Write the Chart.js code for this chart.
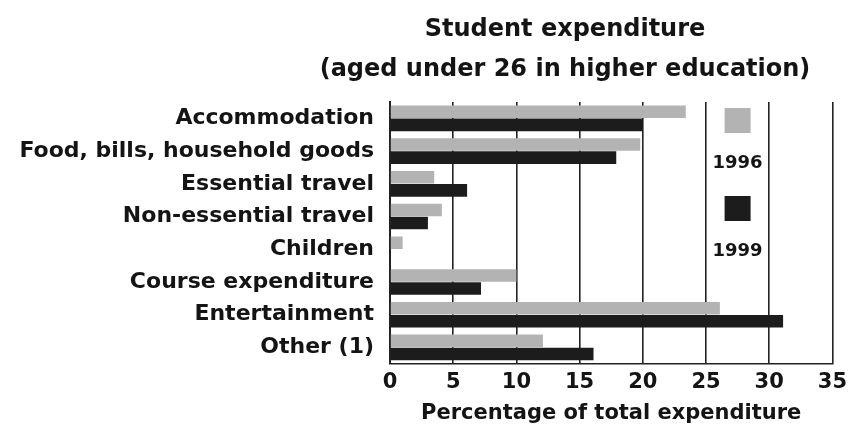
<!DOCTYPE html>
<html>
<head>
<meta charset="utf-8">
<script src="https://cdn.jsdelivr.net/npm/chart.js@4.4.1/dist/chart.umd.min.js"></script>
<style>
    html, body { margin: 0; padding: 0; background: #fff; }
    #wrap { width: 855px; height: 432px; }
</style>
</head>
<body>
<div id="wrap"><canvas id="chartExpenditure"></canvas></div>
<script>
// Data
const categories = [
    'Accommodation',
    'Food, bills, household goods',
    'Essential travel',
    'Non-essential travel',
    'Children',
    'Course expenditure',
    'Entertainment',
    'Other (1)'
];
const values1996 = [23.4, 19.8, 3.5, 4.1, 1.0, 10.0, 26.1, 12.1];
const values1999 = [20.0, 17.9, 6.1, 3.0, 0.0, 7.2, 31.1, 16.1];
const seriesLabels = ['1996', '1999'];
const xTicks = [0, 5, 10, 15, 20, 25, 30, 35];
const titleLines = ['Student expenditure', '(aged under 26 in higher education)'];
const xTitle = 'Percentage of total expenditure';

const FONT = '"DejaVu Sans", sans-serif';
const INK = '#141414';
const colors = { light: '#b3b3b3', dark: '#1c1c1c' };

// Two-line title, centred a little left of the plot area like the original
const offsetTitle = {
    id: 'offsetTitle',
    afterDraw(chart) {
        const { ctx } = chart;
        ctx.save();
        ctx.fillStyle = INK;
        ctx.font = 'bold 24px ' + FONT;
        ctx.textAlign = 'center';
        ctx.textBaseline = 'middle';
        titleLines.forEach((line, i) => {
            ctx.fillText(line, 565, 30 + i * 40);
        });
        ctx.restore();
    }
};

// Legend stacked vertically inside the plot, between the 25 and 30 gridlines
const sideLegend = {
    id: 'sideLegend',
    afterDatasetsDraw(chart) {
        const { ctx, chartArea, scales } = chart;
        const cx = scales.x.getPixelForValue(27.5);
        ctx.save();
        chart.data.datasets.forEach((ds, i) => {
            const top = chartArea.top + 6 + i * 88;
            ctx.fillStyle = ds.backgroundColor;
            ctx.fillRect(cx - 13, top, 26, 25);
            ctx.fillStyle = INK;
            ctx.font = 'bold 18px ' + FONT;
            ctx.textAlign = 'center';
            ctx.textBaseline = 'middle';
            ctx.fillText(ds.label, cx, top + 55);
        });
        ctx.restore();
    }
};

new Chart(document.getElementById('chartExpenditure'), {
    type: 'bar',
    data: {
        labels: categories,
        datasets: [
            {
                label: seriesLabels[0],
                data: values1996,
                backgroundColor: colors.light,
                categoryPercentage: 0.8,
                barPercentage: 0.96
            },
            {
                label: seriesLabels[1],
                data: values1999,
                backgroundColor: colors.dark,
                categoryPercentage: 0.8,
                barPercentage: 0.96
            }
        ]
    },
    options: {
        indexAxis: 'y',
        responsive: true,
        maintainAspectRatio: false,
        animation: false,
        layout: {
            padding: { left: 0, right: 20, top: 102, bottom: 0 }
        },
        plugins: {
            legend: { display: false },
            tooltip: { enabled: false },
            title: { display: false }
        },
        scales: {
            x: {
                min: 0,
                max: 35,
                afterBuildTicks: axis => {
                    axis.ticks = xTicks.map(v => ({ value: v }));
                },
                ticks: {
                    color: INK,
                    padding: 8,
                    font: { family: FONT, size: 21, weight: 'bold', lineHeight: 1.0 }
                },
                grid: {
                    color: '#222',
                    lineWidth: 1.6,
                    drawTicks: false
                },
                border: { display: true, color: '#222', width: 1.6 },
                title: {
                    display: true,
                    text: xTitle,
                    color: INK,
                    font: { family: FONT, size: 21, weight: 'bold' },
                    padding: { top: 0, bottom: 6 }
                }
            },
            y: {
                afterFit: scale => { scale.width = 390; },
                ticks: {
                    color: INK,
                    padding: 8,
                    autoSkip: false,
                    font: { family: FONT, size: 22, weight: 'bold' }
                },
                grid: { display: false },
                border: { display: true, color: '#222', width: 2 }
            }
        }
    },
    plugins: [offsetTitle, sideLegend]
});
</script>
</body>
</html>
